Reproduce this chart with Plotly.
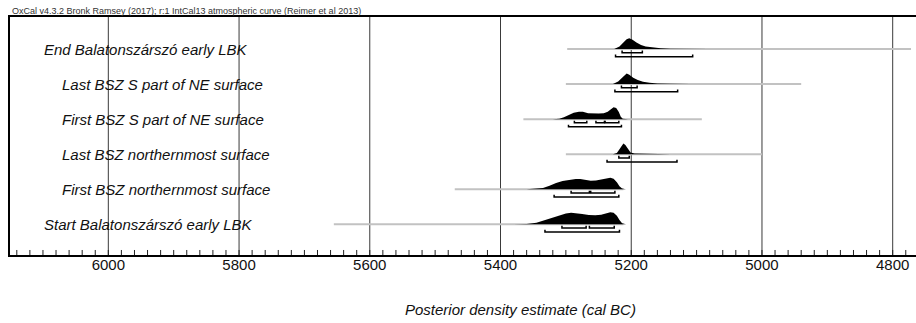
import plotly.graph_objects as go

# ---------------- data ----------------
labels = [
    "Start Balatonszárszó early LBK",
    "First BSZ northernmost surface",
    "Last BSZ northernmost surface",
    "First BSZ S part of NE surface",
    "Last BSZ S part of NE surface",
    "End Balatonszárszó early LBK",
]
label_indent = [0, 1, 1, 1, 1, 0]

# prior (grey) ranges, cal BC
prior_ranges = [
    (5655, 5212),
    (5470, 5212),
    (5300, 5000),
    (5365, 5092),
    (5300, 4940),
    (5298, 4772),
]

# posterior density curves (year, relative density)
dens_years = [
    [5380, 5360, 5345, 5335, 5322, 5310, 5300, 5292, 5284, 5275, 5265, 5255, 5246, 5238, 5232, 5227, 5222, 5218, 5214, 5208],
    [5360, 5345, 5335, 5325, 5315, 5305, 5295, 5285, 5278, 5270, 5262, 5254, 5246, 5238, 5232, 5227, 5222, 5218, 5214, 5208],
    [5228, 5222, 5218, 5215, 5212, 5209, 5205, 5201, 5195, 5180, 5160, 5140],
    [5320, 5310, 5303, 5295, 5288, 5280, 5274, 5266, 5258, 5250, 5242, 5236, 5231, 5227, 5223, 5219, 5216, 5213, 5205],
    [5228, 5220, 5214, 5210, 5207, 5203, 5197, 5190, 5182, 5172, 5160, 5140, 5110],
    [5226, 5218, 5212, 5207, 5203, 5198, 5192, 5185, 5178, 5168, 5155, 5140, 5110, 5080],
]
dens_values = [
    [0.0, 0.03, 0.12, 0.30, 0.55, 0.78, 0.90, 0.95, 0.93, 0.85, 0.78, 0.75, 0.80, 0.92, 1.00, 0.95, 0.70, 0.35, 0.08, 0.0],
    [0.0, 0.03, 0.10, 0.28, 0.52, 0.68, 0.78, 0.86, 0.84, 0.76, 0.71, 0.72, 0.78, 0.90, 0.95, 0.88, 0.57, 0.24, 0.05, 0.0],
    [0.0, 0.09, 0.40, 0.71, 0.89, 0.76, 0.40, 0.13, 0.05, 0.03, 0.01, 0.0],
    [0.0, 0.03, 0.15, 0.39, 0.54, 0.62, 0.61, 0.49, 0.45, 0.46, 0.49, 0.61, 0.83, 0.98, 0.93, 0.59, 0.20, 0.03, 0.0],
    [0.0, 0.22, 0.53, 0.78, 0.89, 0.78, 0.53, 0.34, 0.20, 0.11, 0.05, 0.02, 0.0],
    [0.0, 0.22, 0.54, 0.81, 0.90, 0.77, 0.54, 0.34, 0.22, 0.13, 0.06, 0.03, 0.01, 0.0],
]

# highest posterior density ranges (68.2% and 95.4%)
hpd68 = [
    [(5306, 5269), (5264, 5226)],
    [(5292, 5264), (5262, 5225)],
    [(5219, 5203)],
    [(5287, 5268), (5254, 5241), (5240, 5219)],
    [(5215, 5191)],
    [(5214, 5183)],
]
hpd95 = [
    [(5332, 5218)],
    [(5318, 5219)],
    [(5237, 5130)],
    [(5296, 5215)],
    [(5225, 5129)],
    [(5224, 5106)],
]

x_ticks = [6000, 5800, 5600, 5400, 5200, 5000, 4800]
minor_step = 20

title_text = "OxCal v4.3.2 Bronk Ramsey (2017); r:1 IntCal13 atmospheric curve (Reimer et al 2013)"
axis_title = "Posterior density estimate (cal BC)"

# ---------------- geometry ----------------
W, H = 916, 323
PX_PER_ROW = 35.0
DENS_H = 12.0 / PX_PER_ROW
OFF68 = 3.7 / PX_PER_ROW
OFF95 = 7.7 / PX_PER_ROW
TICK = 2.2 / PX_PER_ROW
MINOR_LEN = 5.0 / PX_PER_ROW
FONT = "Liberation Sans, Arial, sans-serif"

x_left = 6000 + (108.3 - 10) / 0.6535
x_right = 4800 - (916 - 892.7) / 0.6535
y_bot = -(255 - 224.3) / PX_PER_ROW
y_top = 5 + (49 - 17) / PX_PER_ROW

fig = go.Figure()

# major grid lines
for t in x_ticks:
    fig.add_shape(type="line", x0=t, x1=t, y0=0, y1=1, xref="x", yref="y domain",
                  line=dict(color="#3a3a3a", width=1), layer="below")

# minor tick marks along the bottom axis (pointing inwards)
minor_ticks = [t for t in range(int(x_ticks[-1]) - 20, int(x_ticks[0]) + 160, minor_step)]
mx, my = [], []
for t in minor_ticks:
    mx += [t, t, None]
    my += [y_bot, y_bot + MINOR_LEN, None]
fig.add_trace(go.Scatter(x=mx, y=my, mode="lines", line=dict(color="#222", width=1),
                         hoverinfo="skip", showlegend=False))

# prior lines
for i, (a, b) in enumerate(prior_ranges):
    fig.add_trace(go.Scatter(x=[a, b], y=[i, i], mode="lines",
                             line=dict(color="#c2c2c2", width=2),
                             hoverinfo="skip", showlegend=False))

# densities
for i in range(len(labels)):
    xs = dens_years[i] + dens_years[i][::-1]
    ys = [i + v * DENS_H for v in dens_values[i]] + [i] * len(dens_years[i])
    fig.add_trace(go.Scatter(x=xs, y=ys, mode="lines", fill="toself",
                             fillcolor="black", line=dict(color="rgba(0,0,0,0)", width=0),
                             hoverinfo="skip", showlegend=False))

# brackets
def bracket_path(ranges, y0):
    bx, by = [], []
    for a, b in ranges:
        bx += [a, a, b, b, None]
        by += [y0 + TICK, y0, y0, y0 + TICK, None]
    return bx, by

for i in range(len(labels)):
    for ranges, off in ((hpd68[i], OFF68), (hpd95[i], OFF95)):
        bx, by = bracket_path(ranges, i - off)
        fig.add_trace(go.Scatter(x=bx, y=by, mode="lines",
                                 line=dict(color="black", width=1.5),
                                 hoverinfo="skip", showlegend=False))

# labels
for i, lab in enumerate(labels):
    fig.add_annotation(text="<i>" + lab + "</i>", x=(42 if label_indent[i] == 0 else 60) / W,
                       xref="paper", y=i - 0.02, yref="y", xanchor="left", yanchor="middle",
                       showarrow=False, font=dict(family=FONT, size=15, color="#111"))

fig.add_annotation(text=title_text, x=10 / W, y=1 - 11.5 / H, xref="paper", yref="paper",
                   xanchor="left", yanchor="middle", showarrow=False,
                   font=dict(family=FONT, size=9, color="#333"))
fig.add_annotation(text="<i>" + axis_title + "</i>", x=520 / W, y=1 - 309 / H, xref="paper", yref="paper",
                   xanchor="center", yanchor="middle", showarrow=False,
                   font=dict(family=FONT, size=15, color="#111"))

fig.update_layout(
    width=W, height=H, margin=dict(l=0, r=0, t=0, b=0),
    paper_bgcolor="white", plot_bgcolor="white",
    xaxis=dict(domain=[10 / W, 1], range=[x_left, x_right], tickvals=x_ticks,
               ticktext=[str(t) for t in x_ticks], ticks="", showgrid=False,
               ticklabelstandoff=-5,
               showline=True, linecolor="black", linewidth=2, mirror=True,
               zeroline=False,
               tickfont=dict(family=FONT, size=15, color="#111")),
    yaxis=dict(domain=[1 - 255 / H, 1 - 17 / H], range=[y_bot, y_top], showgrid=False,
               showticklabels=False, ticks="", zeroline=False, showline=True,
               linecolor="black", linewidth=1.5),
)

fig.write_html("out.html")
